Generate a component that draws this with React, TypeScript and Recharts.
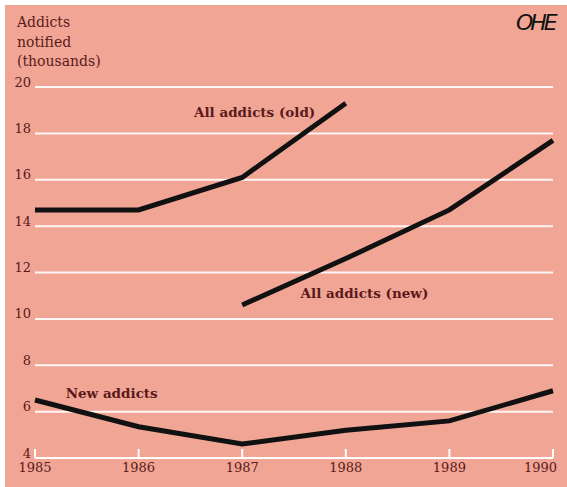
import React from 'react';
import { LineChart, Line, XAxis, YAxis, CartesianGrid, ReferenceDot } from 'recharts';

const years = [1985, 1986, 1987, 1988, 1989, 1990];
const allOld: (number | null)[] = [14.7, 14.7, 16.1, 19.3, null, null];
const allNew: (number | null)[] = [null, null, 10.6, 12.6, 14.7, 17.7];
const newAddicts: number[] = [6.5, 5.35, 4.6, 5.2, 5.6, 6.9];
const yTicks = [4, 6, 8, 10, 12, 14, 16, 18, 20];

const data = years.map((y, i) => ({ year: y, old: allOld[i], nw: allNew[i], na: newAddicts[i] }));

const TEXT = '#5a1a1a';
const FONT = '"DejaVu Serif", "Liberation Serif", serif';

const XTick = (props: any) => {
  const { x, y, payload, index } = props;
  const last = index === years.length - 1;
  return (
    <g>
      <line x1={x} x2={x} y1={y} y2={y - 9} stroke="#fff" strokeWidth={2} />
      <text x={last ? x + 4 : x} y={y + 14} textAnchor={last ? 'end' : 'middle'} fill={TEXT} fontSize={13} fontFamily={FONT}>
        {payload.value}
      </text>
    </g>
  );
};

const lbl = (value: string) => ({
  value,
  position: 'center' as const,
  fill: TEXT,
  fontSize: 13.5,
  fontWeight: 700,
  fontFamily: FONT,
});

export default function App() {
  return (
    <div style={{ position: 'absolute', left: 0, top: 0, width: 567, height: 487, background: '#fff' }}>
      <div style={{ position: 'absolute', left: 5, top: 5, width: 562, height: 482, background: '#f1a595' }} />
      <div style={{ position: 'absolute', left: 0, top: 0 }}>
        <LineChart width={567} height={487} data={data} margin={{ top: 87, right: 14, bottom: 0, left: 0 }}>
          <CartesianGrid vertical={false} stroke="#fff" strokeWidth={2} strokeOpacity={0.9} />
          <XAxis
            dataKey="year"
            type="number"
            domain={[1985, 1990]}
            ticks={years}
            height={29}
            axisLine={{ stroke: '#fff', strokeWidth: 2 }}
            tickLine={false}
            tickSize={0}
            tickMargin={0}
            tick={<XTick />}
            interval={0}
          />
          <YAxis
            domain={[4, 20]}
            ticks={yTicks}
            width={35}
            axisLine={false}
            tickLine={false}
            tickSize={0}
            tickMargin={4}
            tick={{ fill: TEXT, fontSize: 13, fontFamily: FONT, dy: -5 }}
            interval={0}
          />
          <Line dataKey="old" stroke="#111" strokeWidth={5} dot={false} isAnimationActive={false} connectNulls={false} />
          <Line dataKey="nw" stroke="#111" strokeWidth={5} dot={false} isAnimationActive={false} connectNulls={false} />
          <Line dataKey="na" stroke="#111" strokeWidth={5} dot={false} isAnimationActive={false} />
          <ReferenceDot x={1987.12} y={18.9} r={0} fill="none" stroke="none" label={lbl('All addicts (old)')} />
          <ReferenceDot x={1988.18} y={11.1} r={0} fill="none" stroke="none" label={lbl('All addicts (new)')} />
          <ReferenceDot x={1985.74} y={6.8} r={0} fill="none" stroke="none" label={lbl('New addicts')} />
        </LineChart>
      </div>
      <div style={{ position: 'absolute', left: 17, top: 13, color: TEXT, fontFamily: FONT, fontSize: 14, lineHeight: '19.5px' }}>
        Addicts<br />notified<br />(thousands)
      </div>
      <div style={{ position: 'absolute', left: 516, top: 10, color: '#111', fontFamily: '"DejaVu Sans", sans-serif', fontStyle: 'italic', fontSize: 22, letterSpacing: -3 }}>
        OHE
      </div>
    </div>
  );
}
